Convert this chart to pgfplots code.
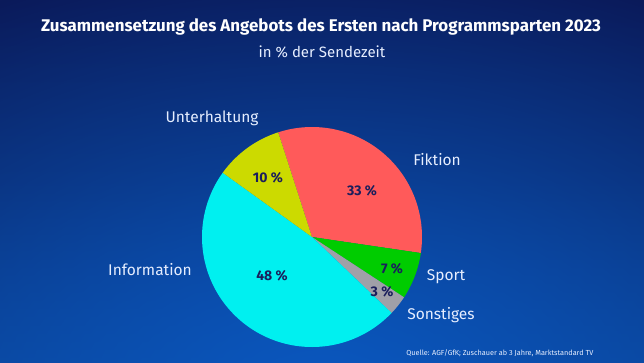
\documentclass[border=0pt]{standalone}
\usepackage{pgfplots}
\pgfplotsset{compat=1.18}
\usetikzlibrary{fadings}
\usepackage{fontspec}
\setmainfont{Fira Sans}
\definecolor{bgtop}{HTML}{0B1A5A}
\definecolor{bgmid}{HTML}{0B2466}
\definecolor{bgedge}{HTML}{0A3A86}
\definecolor{bgbot}{HTML}{0A58C0}
\definecolor{cFik}{HTML}{FF5A5A}
\definecolor{cSport}{HTML}{00CC00}
\definecolor{cSonst}{HTML}{A0A0A8}
\definecolor{cInfo}{HTML}{00F0F0}
\definecolor{cUnt}{HTML}{CCDA00}
\definecolor{numc}{HTML}{1A1E5C}
\definecolor{labc}{HTML}{E6EEFF}
\tikzfading[name=myfade, inner color=transparent!0, outer color=transparent!100]
% shares in % of airtime (clockwise from Fiktion)
\def\vFik{32.3}
\def\vSport{6.9}
\def\vSonst{2.9}
\def\vInfo{47.8}
\def\vUnt{10.1}
\def\startangle{107.9}
\begin{document}
\begin{tikzpicture}[x=1pt,y=1pt]
\begin{scope}
\clip (0,0) rectangle (644,362);
\shade[top color=bgtop, bottom color=bgedge, middle color=bgmid] (0,0) rectangle (644,362);
\fill[bgbot, path fading=myfade] (322,-30) ellipse (700 and 440);
\end{scope}
\useasboundingbox (0,0) rectangle (644,362);
\pgfmathsetmacro\aA{\startangle}
\pgfmathsetmacro\aB{\aA-3.6*\vFik}
\pgfmathsetmacro\aC{\aB-3.6*\vSport}
\pgfmathsetmacro\aD{\aC-3.6*\vSonst}
\pgfmathsetmacro\aE{\aD-3.6*\vInfo}
\pgfmathsetmacro\aF{\aE-3.6*\vUnt}
\begin{axis}[
  at={(202pt,15pt)}, anchor=south west,
  scale only axis, width=220pt, height=220pt,
  xmin=-1, xmax=1, ymin=-1, ymax=1,
  hide axis, clip=false,
]
\addplot[fill=cFik, draw=none, domain=\aB:\aA, samples=80] ({cos(x)},{sin(x)}) -- (0,0) -- cycle;
\addplot[fill=cSport, draw=none, domain=\aC:\aB, samples=30] ({cos(x)},{sin(x)}) -- (0,0) -- cycle;
\addplot[fill=cSonst, draw=none, domain=\aD:\aC, samples=20] ({cos(x)},{sin(x)}) -- (0,0) -- cycle;
\addplot[fill=cInfo, draw=none, domain=\aE:\aD, samples=120] ({cos(x)},{sin(x)}) -- (0,0) -- cycle;
\addplot[fill=cUnt, draw=none, domain=\aF:\aE, samples=30] ({cos(x)},{sin(x)}) -- (0,0) -- cycle;
\end{axis}
% percentage labels
\begin{scope}[every node/.style={font=\fontsize{14}{16}\selectfont\bfseries, text=numc}]
\node at (362,171) {33 \%};
\node at (392,93) {7 \%};
\node at (382,70) {3 \%};
\node at (272,86) {48 \%};
\node at (268,184) {10 \%};
\end{scope}
% category labels
\begin{scope}[every node/.style={font=\fontsize{15.5}{17}\selectfont, text=labc}]
\node at (212,244) {Unterhaltung};
\node at (437,202) {Fiktion};
\node at (446,85) {Sport};
\node at (441,47) {Sonstiges};
\node at (150,92) {Information};
\end{scope}
\node[font=\fontsize{16.9}{19}\selectfont\bfseries, text=white] at (321,335) {Zusammensetzung des Angebots des Ersten nach Programmsparten 2023};
\node[font=\fontsize{15}{17}\selectfont, text=labc] at (322,310) {in \% der Sendezeit};
\node[font=\fontsize{7.3}{8}\selectfont, text=labc, anchor=east] at (597,9) {Quelle: AGF/GfK; Zuschauer ab 3 Jahre, Marktstandard TV};
\end{tikzpicture}
\end{document}
